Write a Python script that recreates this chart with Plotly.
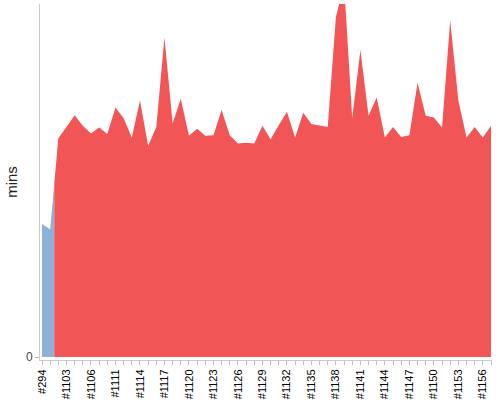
import plotly.graph_objects as go

# build labels (only every 3rd one is shown on the axis)
builds = ['#294', '#1101', '#1102', '#1103', '#1104', '#1105', '#1106', '#1108', '#1110',
          '#1111', '#1112', '#1113', '#1114', '#1115', '#1116', '#1117', '#1118', '#1119',
          '#1120', '#1121', '#1122', '#1123', '#1124', '#1125', '#1126', '#1127', '#1128',
          '#1129', '#1130', '#1131', '#1132', '#1133', '#1134', '#1135', '#1136', '#1137',
          '#1138', '#1139', '#1140', '#1141', '#1142', '#1143', '#1144', '#1145', '#1146',
          '#1147', '#1148', '#1149', '#1150', '#1151', '#1152', '#1153', '#1154', '#1155',
          '#1156', '#1157']

# build duration in minutes
mins = [22.6, 21.7, 37.2, 39.1, 41.1, 39.3, 38.0, 39.0, 37.9, 42.4,
        40.6, 37.3, 43.6, 35.9, 39.1, 54.3, 39.7, 43.9, 37.6, 38.8,
        37.6, 37.7, 42.0, 37.7, 36.3, 36.4, 36.3, 39.3, 37.0, 39.4,
        41.7, 37.3, 41.5, 39.6, 39.4, 39.1, 57.8, 63.4, 40.6, 52.2,
        41.0, 44.1, 37.3, 39.1, 37.4, 37.7, 46.6, 41.0, 40.7, 39.0,
        57.2, 43.6, 37.3, 39.1, 37.3, 39.3]

n_old = 2  # first builds come from the old branch (blue)

idx = list(range(len(builds)))
split = (idx[n_old - 1] + idx[n_old]) / 2
split_val = (mins[n_old - 1] + mins[n_old]) / 2

old = go.Scatter(
    x=idx[:n_old] + [split],
    y=mins[:n_old] + [split_val],
    mode='lines',
    line=dict(width=0),
    fill='tozeroy',
    fillcolor='#8EB1DA',
    hoverinfo='skip'
)
new = go.Scatter(
    x=[split] + idx[n_old:],
    y=[split_val] + mins[n_old:],
    mode='lines',
    line=dict(width=0),
    fill='tozeroy',
    fillcolor='#F25555',
    hoverinfo='skip'
)

layout = go.Layout(
    width=500,
    height=400,
    showlegend=False,
    paper_bgcolor='white',
    plot_bgcolor='white',
    font=dict(family='Liberation Sans, Arial, sans-serif', size=11, color='#000'),
    margin=dict(l=40, r=8, t=4, b=40),
    xaxis=dict(
        range=[-0.245, 55.12],
        tickmode='array',
        tickvals=idx[::3],
        ticktext=builds[::3],
        tickangle=-90,
        ticks='outside',
        ticklen=4,
        tickcolor='#bbb',
        minor=dict(tickmode='linear', tick0=0, dtick=1, ticks='outside', ticklen=4, tickcolor='#bbb'),
        showline=True,
        linecolor='#ccc',
        showgrid=False,
        zeroline=False,
        automargin=False,
        fixedrange=True
    ),
    yaxis=dict(
        range=[-0.5, 60],
        tickmode='array',
        tickvals=[0],
        ticks='outside',
        ticklen=4,
        tickcolor='#bbb',
        tickfont=dict(size=12, color='#444'),
        showline=True,
        linecolor='#ccc',
        showgrid=False,
        zeroline=False,
        automargin=False,
        fixedrange=True,
        title=dict(text='mins', font=dict(size=15, color='#222'), standoff=4)
    )
)

fig = go.Figure(data=[old, new], layout=layout)
# drop the default page margin so the chart sits at the window corner
fig.write_html('out.html', config={'displayModeBar': False},
               post_script="document.body.style.margin='0';")
